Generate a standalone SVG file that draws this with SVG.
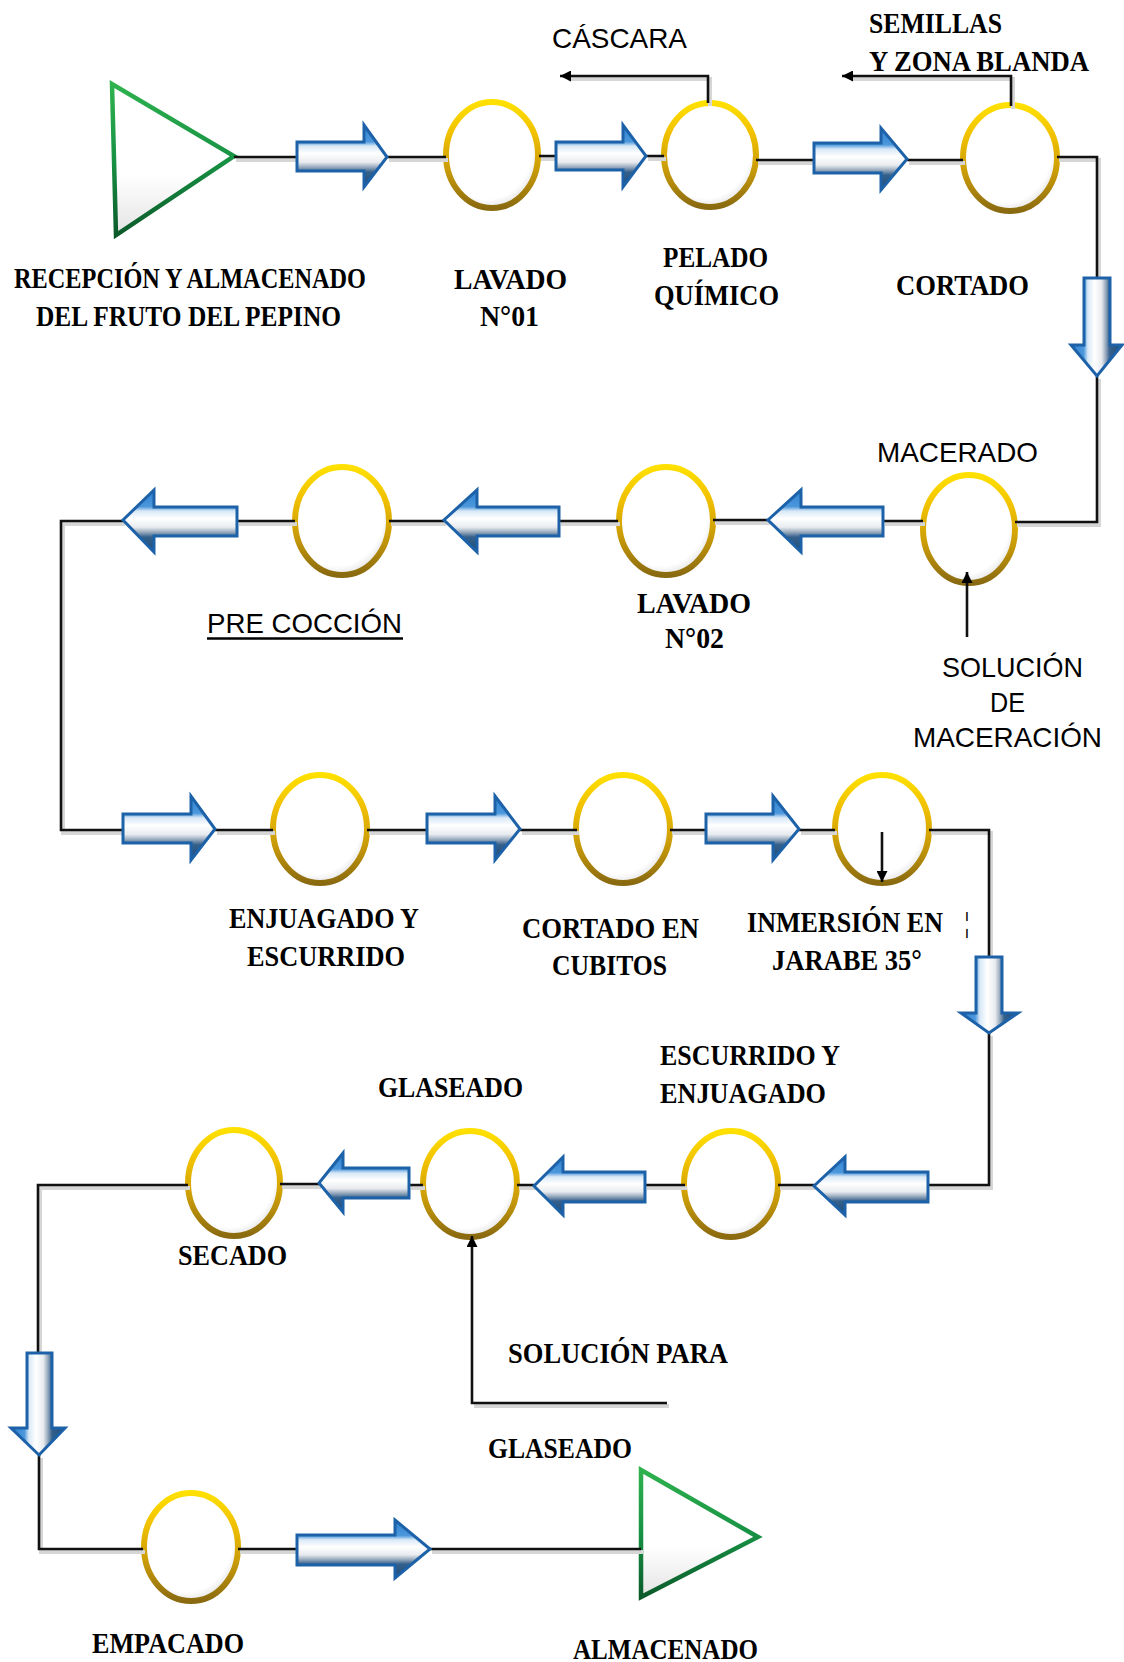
<svg xmlns="http://www.w3.org/2000/svg" width="1124" height="1662" viewBox="0 0 1124 1662">
<style>
.bg{fill:#ffffff}
.op{stroke:url(#gold);stroke-width:6;fill:url(#opfill)}
.bh{fill:url(#arrH);stroke:#1d62a8;stroke-width:3;stroke-linejoin:miter}
.bv{fill:url(#arrV);stroke:#1d62a8;stroke-width:3;stroke-linejoin:miter}
.tri{fill:url(#trifill);stroke:url(#green);stroke-width:4.5;stroke-linejoin:miter}
.ln{fill:none;stroke:#111;stroke-width:2.6}
.sh{fill:none;stroke:#d6d6d6;stroke-width:4}
.ser{font-family:"Liberation Serif","Times New Roman",serif;font-weight:bold;font-size:29px;fill:#000}
.san{font-family:"Liberation Sans",Arial,sans-serif;font-size:28px;fill:#000}
</style>
<defs>
<linearGradient id="gold" x1="0" y1="0" x2="0" y2="1">
<stop offset="0" stop-color="#ffe000"/>
<stop offset="0.3" stop-color="#f0c000"/>
<stop offset="0.65" stop-color="#c89a08"/>
<stop offset="1" stop-color="#8a6a10"/>
</linearGradient>
<radialGradient id="opfill" cx="0.45" cy="0.42" r="0.62">
<stop offset="0" stop-color="#ffffff"/>
<stop offset="0.8" stop-color="#ffffff"/>
<stop offset="1" stop-color="#dcdcdc"/>
</radialGradient>
<linearGradient id="arrH" x1="0" y1="0" x2="0" y2="1">
<stop offset="0" stop-color="#2a7fd0"/>
<stop offset="0.27" stop-color="#4d98dc"/>
<stop offset="0.34" stop-color="#d8e8f6"/>
<stop offset="0.46" stop-color="#ffffff"/>
<stop offset="0.6" stop-color="#e8ebef"/>
<stop offset="0.68" stop-color="#98aabd"/>
<stop offset="0.76" stop-color="#34608c"/>
<stop offset="1" stop-color="#1e4a78"/>
</linearGradient>
<linearGradient id="arrV" x1="0" y1="0" x2="1" y2="0">
<stop offset="0" stop-color="#2a7fd0"/>
<stop offset="0.25" stop-color="#4d98dc"/>
<stop offset="0.33" stop-color="#d8e8f6"/>
<stop offset="0.46" stop-color="#ffffff"/>
<stop offset="0.6" stop-color="#e8ebef"/>
<stop offset="0.68" stop-color="#98aabd"/>
<stop offset="0.76" stop-color="#34608c"/>
<stop offset="1" stop-color="#1e4a78"/>
</linearGradient>
<linearGradient id="green" x1="0" y1="0" x2="0" y2="1">
<stop offset="0" stop-color="#2fb24e"/>
<stop offset="0.5" stop-color="#179244"/>
<stop offset="1" stop-color="#0b5a2a"/>
</linearGradient>
<linearGradient id="trifill" x1="0" y1="0" x2="0" y2="1">
<stop offset="0" stop-color="#ffffff"/>
<stop offset="0.6" stop-color="#ffffff"/>
<stop offset="1" stop-color="#e4e4e4"/>
</linearGradient>
<marker id="ah" viewBox="0 0 10 10" refX="10" refY="5" markerWidth="12" markerHeight="11" markerUnits="userSpaceOnUse" orient="auto">
<path d="M0,0 L10,5 L0,10 z" fill="#000"/>
</marker>
</defs>
<rect class="bg" x="0" y="0" width="1124" height="1662"/>

<g id="n-recepcion">
<polygon class="tri" points="112,84 116,235 234,156"/>
<text class="ser" x="14" y="288" textLength="352" lengthAdjust="spacingAndGlyphs">RECEPCIÓN Y ALMACENADO</text>
<text class="ser" x="36" y="326" textLength="305" lengthAdjust="spacingAndGlyphs">DEL FRUTO DEL PEPINO</text>
</g>
<g id="n-lavado1">
<ellipse class="op" cx="492" cy="155" rx="46" ry="53"/>
<text class="ser" x="454" y="289" textLength="113" lengthAdjust="spacingAndGlyphs">LAVADO</text>
<text class="ser" x="480" y="326" textLength="59" lengthAdjust="spacingAndGlyphs">N°01</text>
</g>
<g id="n-pelado">
<ellipse class="op" cx="710" cy="155" rx="46" ry="52"/>
<text class="ser" x="663" y="267" textLength="105" lengthAdjust="spacingAndGlyphs">PELADO</text>
<text class="ser" x="654" y="305" textLength="125" lengthAdjust="spacingAndGlyphs">QUÍMICO</text>
</g>
<g id="l-cascara">
<text class="san" x="552" y="48" textLength="135" lengthAdjust="spacingAndGlyphs">CÁSCARA</text>
</g>
<g id="n-cortado">
<ellipse class="op" cx="1010" cy="158" rx="47" ry="53"/>
<text class="ser" x="896" y="295" textLength="133" lengthAdjust="spacingAndGlyphs">CORTADO</text>
</g>
<g id="l-semillas">
<text class="ser" x="869" y="33" textLength="133" lengthAdjust="spacingAndGlyphs">SEMILLAS</text>
<text class="ser" x="869" y="71" textLength="220" lengthAdjust="spacingAndGlyphs">Y ZONA BLANDA</text>
</g>
<g id="n-macerado">
<ellipse class="op" cx="969" cy="529" rx="46" ry="54"/>
<text class="san" x="877" y="462" textLength="161" lengthAdjust="spacingAndGlyphs">MACERADO</text>
</g>
<g id="l-solucion-maceracion">
<text class="san" x="942" y="677" textLength="141" lengthAdjust="spacingAndGlyphs">SOLUCIÓN</text>
<text class="san" x="990" y="712" textLength="35" lengthAdjust="spacingAndGlyphs">DE</text>
<text class="san" x="913" y="747" textLength="189" lengthAdjust="spacingAndGlyphs">MACERACIÓN</text>
</g>
<g id="n-lavado2">
<ellipse class="op" cx="666" cy="521" rx="47" ry="54"/>
<text class="ser" x="637" y="613" textLength="114" lengthAdjust="spacingAndGlyphs">LAVADO</text>
<text class="ser" x="665" y="648" textLength="59" lengthAdjust="spacingAndGlyphs">N°02</text>
</g>
<g id="n-precoccion">
<ellipse class="op" cx="342" cy="521" rx="47" ry="54"/>
<text class="san" x="207" y="633" textLength="195" lengthAdjust="spacingAndGlyphs">PRE COCCIÓN</text>
<line x1="207" y1="638.5" x2="403" y2="638.5" stroke="#000" stroke-width="2.5"/>
</g>
<g id="n-enjuagado">
<ellipse class="op" cx="320" cy="829" rx="47" ry="54"/>
<text class="ser" x="229" y="928" textLength="190" lengthAdjust="spacingAndGlyphs">ENJUAGADO Y</text>
<text class="ser" x="247" y="966" textLength="158" lengthAdjust="spacingAndGlyphs">ESCURRIDO</text>
</g>
<g id="n-cubitos">
<ellipse class="op" cx="623" cy="829" rx="47" ry="54"/>
<text class="ser" x="522" y="938" textLength="177" lengthAdjust="spacingAndGlyphs">CORTADO EN</text>
<text class="ser" x="552" y="975" textLength="115" lengthAdjust="spacingAndGlyphs">CUBITOS</text>
</g>
<g id="n-inmersion">
<ellipse class="op" cx="882" cy="829" rx="47" ry="54"/>
<text class="ser" x="747" y="932" textLength="196" lengthAdjust="spacingAndGlyphs">INMERSIÓN EN</text>
<text class="ser" x="964" y="932" style="font-weight:normal">¦</text>
<text class="ser" x="772" y="970" textLength="150" lengthAdjust="spacingAndGlyphs">JARABE 35°</text>
</g>
<g id="n-escurrido">
<ellipse class="op" cx="731" cy="1184" rx="47" ry="53"/>
<text class="ser" x="660" y="1065" textLength="180" lengthAdjust="spacingAndGlyphs">ESCURRIDO Y</text>
<text class="ser" x="660" y="1103" textLength="166" lengthAdjust="spacingAndGlyphs">ENJUAGADO</text>
</g>
<g id="n-glaseado">
<ellipse class="op" cx="470" cy="1184" rx="47" ry="53"/>
<text class="ser" x="378" y="1097" textLength="145" lengthAdjust="spacingAndGlyphs">GLASEADO</text>
</g>
<g id="l-solucion-glaseado">
<text class="ser" x="508" y="1363" textLength="220" lengthAdjust="spacingAndGlyphs">SOLUCIÓN PARA</text>
<text class="ser" x="488" y="1458" textLength="144" lengthAdjust="spacingAndGlyphs">GLASEADO</text>
</g>
<g id="n-secado">
<ellipse class="op" cx="234" cy="1183" rx="46" ry="53"/>
<text class="ser" x="178" y="1265" textLength="109" lengthAdjust="spacingAndGlyphs">SECADO</text>
</g>
<g id="n-empacado">
<ellipse class="op" cx="191" cy="1547" rx="47" ry="54"/>
<text class="ser" x="92" y="1653" textLength="152" lengthAdjust="spacingAndGlyphs">EMPACADO</text>
</g>
<g id="n-almacenado">
<polygon class="tri" points="641,1470 641,1597 758,1537"/>
<text class="ser" x="573" y="1659" textLength="185" lengthAdjust="spacingAndGlyphs">ALMACENADO</text>
</g>

<g id="connectors">
<g transform="translate(2,3)">
<path class="sh" d="M234,157 H297 M387,157 H446 M539,156 H556 M646,156 H664 M756,160 H814 M907,160 H963 M1057,157 H1097 V278"/>
<path class="sh" d="M708,103 V76 H566 M1011,106 V76 H849"/>
<path class="sh" d="M1097,376 V522 H1015 M923,521 H883 M768,520 H713 M618,521 H559 M444,521 H389 M295,521 H237 M123,521 H61 V830 H123"/>
<path class="sh" d="M215,830 H273 M367,830 H427 M520,830 H577 M670,830 H706 M799,830 H835 M929,830 H989 V957 M989,1033 V1185 H928"/>
<path class="sh" d="M814,1185 H778 M685,1185 H645 M534,1185 H517 M423,1185 H409 M319,1184 H280 M188,1185 H38 V1353 M39,1455 V1549 H143"/>
<path class="sh" d="M667,1403 H472 M238,1549 H297 M430,1549 H641"/>
</g>
<path class="ln" d="M234,157 H297 M387,157 H446 M539,156 H556 M646,156 H664 M756,160 H814 M907,160 H963 M1057,157 H1097 V278"/>
<path class="ln" d="M708,103 V76 H560" marker-end="url(#ah)"/>
<path class="ln" d="M1011,106 V76 H842" marker-end="url(#ah)"/>
<path class="ln" d="M1097,376 V522 H1015 M923,521 H883 M768,520 H713 M618,521 H559 M444,521 H389 M295,521 H237 M123,521 H61 V830 H123"/>
<path class="ln" d="M967,637 V572" marker-end="url(#ah)"/>
<path class="ln" d="M215,830 H273 M367,830 H427 M520,830 H577 M670,830 H706 M799,830 H835 M929,830 H989 V957 M989,1033 V1185 H928"/>
<path class="ln" d="M882,832 V882" marker-end="url(#ah)"/>
<path class="ln" d="M814,1185 H778 M685,1185 H645 M534,1185 H517 M423,1185 H409 M319,1184 H280 M188,1185 H38 V1353 M39,1455 V1549 H143"/>
<path class="ln" d="M667,1403 H472 V1236" marker-end="url(#ah)"/>
<path class="ln" d="M238,1549 H297 M430,1549 H641"/>
<g id="flow-arrows">
<polygon class="bh" points="297,142 364,142 364,125 387,157 364,187 364,171 297,171"/>
<polygon class="bh" points="556,142 623,142 623,125 646,156 623,187 623,170 556,170"/>
<polygon class="bh" points="814,143 881,143 881,128 907,159 881,190 881,173 814,173"/>
<polygon class="bv" points="1084,278 1110,278 1110,345 1122,345 1097,376 1071,345 1084,345"/>
<polygon class="bh" points="883,507 801,507 801,490 768,520 801,552 801,536 883,536"/>
<polygon class="bh" points="559,507 477,507 477,490 444,520 477,552 477,536 559,536"/>
<polygon class="bh" points="237,507 154,507 154,490 123,520 154,552 154,536 237,536"/>
<polygon class="bh" points="123,814 191,814 191,796 215,829 191,860 191,843 123,843"/>
<polygon class="bh" points="427,814 495,814 495,796 520,829 495,860 495,843 427,843"/>
<polygon class="bh" points="706,814 773,814 773,796 799,829 773,860 773,843 706,843"/>
<polygon class="bv" points="976,957 1002,957 1002,1013 1018,1013 989,1033 961,1013 976,1013"/>
<polygon class="bh" points="928,1172 845,1172 845,1157 814,1186 845,1215 845,1202 928,1202"/>
<polygon class="bh" points="645,1172 563,1172 563,1157 534,1186 563,1215 563,1202 645,1202"/>
<polygon class="bh" points="409,1168 343,1168 343,1153 319,1183 343,1212 343,1198 409,1198"/>
<polygon class="bv" points="27,1353 52,1353 52,1428 65,1428 39,1455 11,1428 27,1428"/>
<polygon class="bh" points="297,1535 395,1535 395,1520 430,1549 395,1578 395,1565 297,1565"/>
</g>
</g>
</svg>
